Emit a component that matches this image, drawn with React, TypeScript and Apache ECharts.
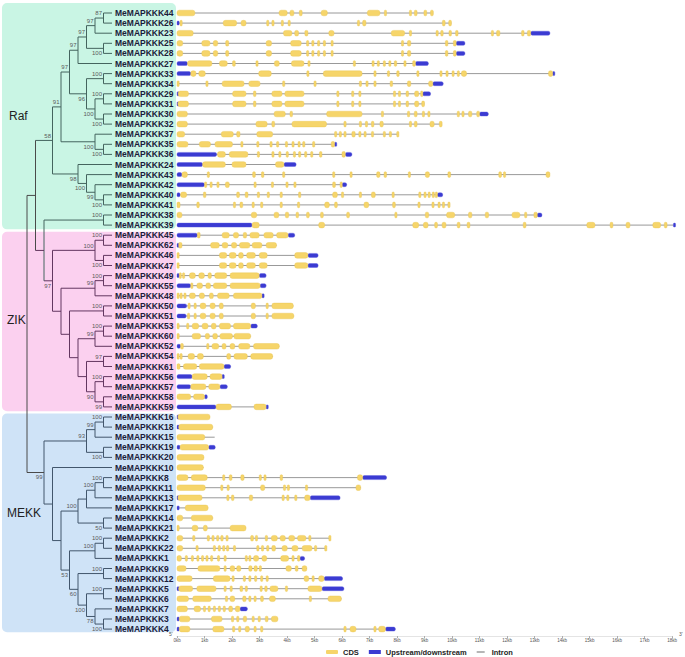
import React, { useEffect, useRef } from 'react';
import * as echarts from 'echarts';

const GENE_IDS = [44, 26, 23, 25, 28, 27, 33, 34, 29, 31, 30, 32, 37, 35, 36, 24, 43, 42, 40, 41, 38, 39,
  45, 62, 46, 47, 49, 55, 48, 50, 51, 53, 60, 52, 54, 61, 56, 57, 58, 59,
  16, 18, 15, 19, 20, 10, 8, 11, 13, 17, 14, 21, 2, 22, 1, 9, 12, 5, 6, 7, 3, 4];
const GENE_NAMES = GENE_IDS.map((i) => 'MeMAPKKK' + i);

const GENE_END = [9.32, 9.98, 13.56, 10.47, 10.47, 9.14, 13.73, 9.68, 9.22, 9.0, 11.32, 9.64, 8.06, 5.78, 6.36, 4.33,
  13.56, 6.17, 9.66, 9.93, 13.27, 18.12,
  4.28, 3.62, 5.13, 5.13, 3.24, 3.24, 3.16, 4.23, 4.25, 2.92, 2.68, 3.72, 3.48, 1.95, 1.71, 1.83, 1.1, 3.27,
  1.2, 1.3, 1.37, 1.39, 0.98, 0.96, 7.62, 6.68, 5.93, 1.13, 1.3, 2.51, 5.59, 5.44, 4.64, 4.72, 6.02, 6.07, 5.98, 2.56, 3.67, 7.94];

const UTR: number[][] = [
  [], [0, 0.06], [12.86, 13.56], [10.15, 10.47], [10.15, 10.47], [0, 0.38, 8.67, 9.14], [0, 0.5, 13.66, 13.73],
  [9.3, 9.68], [0, 0.04, 8.93, 9.22], [0, 0.03], [11.0, 11.32], [], [], [5.73, 5.78], [0, 1.44, 6.12, 6.36],
  [0, 0.93, 3.89, 4.33], [0, 0.18], [0, 1.0, 6.0, 6.17], [0, 0.11, 9.47, 9.66], [], [13.1, 13.27], [0, 2.73, 18.05, 18.12],
  [0, 0.74, 4.04, 4.28], [0, 0.06], [4.76, 5.13], [4.76, 5.13], [0, 0.05, 2.99, 3.24], [0, 0.5, 3.02, 3.24], [3.09, 3.16],
  [0, 0.35], [0, 0.33], [2.68, 2.92], [], [0, 0.13], [], [1.71, 1.95], [0, 0.55, 1.64, 1.71], [0, 0.5, 1.56, 1.83],
  [1.0, 1.1], [0, 1.42, 3.24, 3.27],
  [0, 0.03], [0, 0.06], [], [0, 0.11, 1.15, 1.39], [], [], [6.75, 7.62], [], [0, 0.03, 4.84, 5.93], [0, 0.05], [], [],
  [], [], [4.47, 4.64], [], [5.35, 6.02], [0, 0.04, 5.27, 6.07], [], [2.29, 2.56], [0, 0.08], [0, 0.08, 7.58, 7.94],
];

const CDS: number[][] = [
  [0, 0.65, 3.71, 4.01, 4.11, 4.25, 4.45, 4.55, 5.24, 5.47, 6.92, 7.38, 7.54, 7.59, 8.45, 8.52, 8.63, 8.73, 8.98, 9.08, 9.22, 9.32],
  [0.11, 0.18, 1.68, 2.17, 2.33, 2.51, 3.26, 3.33, 3.45, 3.52, 3.79, 3.87, 4.04, 4.11, 6.56, 6.63, 6.75, 6.87, 9.65, 9.75, 9.88, 9.98],
  [0, 0.59, 3.87, 4.18, 4.28, 4.42, 4.65, 4.76, 5.52, 5.71, 7.79, 8.28, 8.45, 8.5, 9.42, 9.49, 9.59, 9.68, 9.89, 9.98, 10.13, 10.22, 11.43, 11.5, 11.62, 11.74, 12.53, 12.62, 12.74, 12.86],
  [0, 0.21, 0.9, 1.2, 1.32, 1.48, 1.77, 1.88, 3.24, 3.44, 4.13, 4.52, 4.71, 4.76, 4.9, 4.95, 5.11, 5.19, 5.32, 5.39, 5.6, 5.68, 8.16, 8.23, 8.38, 8.5, 9.76, 9.85, 10.05, 10.15],
  [0, 0.21, 0.9, 1.2, 1.32, 1.48, 1.77, 1.88, 3.24, 3.44, 4.13, 4.52, 4.71, 4.76, 4.9, 4.95, 5.11, 5.19, 5.32, 5.39, 5.6, 5.68, 8.16, 8.23, 8.38, 8.5, 9.76, 9.85, 10.05, 10.15],
  [0.38, 1.27, 1.54, 1.83, 2.02, 2.12, 2.87, 2.95, 3.54, 3.72, 4.16, 4.62, 4.76, 4.8, 6.41, 6.48, 7.09, 7.16, 7.28, 7.36, 7.5, 7.58, 7.7, 7.77, 7.9, 7.99, 8.25, 8.33, 8.57, 8.67],
  [0.5, 0.69, 0.79, 1.03, 2.97, 3.43, 4.72, 4.79, 5.32, 6.73, 7.16, 7.24, 7.65, 7.72, 7.99, 8.08, 8.72, 8.79, 9.56, 9.64, 9.78, 9.85, 10.0, 10.07, 10.19, 10.24, 10.34, 10.53, 13.51, 13.66],
  [0, 0.04, 1.05, 1.13, 1.64, 2.44, 2.61, 3.02, 3.84, 3.89, 4.98, 5.05, 6.63, 6.7, 6.87, 6.95, 7.16, 7.24, 7.75, 7.84, 8.38, 8.5, 9.15, 9.3],
  [0.04, 0.42, 2.02, 2.51, 2.78, 2.87, 3.45, 3.82, 3.92, 4.62, 5.81, 5.85, 6.35, 6.42, 6.61, 6.68, 7.87, 7.94, 8.05, 8.13, 8.33, 8.42, 8.64, 8.79, 8.86, 8.93],
  [0.03, 0.42, 2.02, 2.51, 2.78, 2.87, 3.45, 3.82, 3.92, 4.62, 5.81, 5.85, 6.35, 6.42, 6.61, 6.68, 7.87, 7.94, 8.05, 8.13, 8.33, 8.42, 8.64, 8.79, 8.9, 9.0],
  [0, 0.38, 3.53, 3.94, 4.11, 4.2, 5.44, 6.73, 7.43, 7.5, 8.38, 8.45, 8.63, 8.73, 8.92, 9.0, 9.12, 9.2, 10.19, 10.26, 10.36, 10.42, 10.6, 10.72, 10.9, 11.0],
  [0, 0.38, 2.87, 3.28, 3.45, 3.55, 4.18, 5.44, 6.07, 6.12, 6.63, 6.7, 6.85, 6.92, 7.07, 7.16, 7.38, 7.5, 8.45, 8.52, 8.63, 8.73, 9.2, 9.35, 9.54, 9.64],
  [0, 0.28, 1.61, 2.05, 2.17, 2.29, 2.9, 3.48, 5.73, 5.81, 5.9, 5.98, 6.07, 6.15, 6.36, 6.48, 6.61, 6.68, 6.8, 6.87, 7.07, 7.15, 7.5, 7.58, 7.72, 7.79, 7.99, 8.06],
  [0, 0.4, 0.81, 1.22, 1.38, 2.02, 2.32, 2.39, 2.9, 2.95, 3.38, 3.45, 3.62, 3.7, 3.94, 4.01, 4.18, 4.25, 4.4, 4.47, 4.57, 4.64, 4.93, 5.0, 5.61, 5.73],
  [1.47, 1.76, 1.9, 2.58, 2.92, 3.0, 3.45, 3.53, 3.7, 3.77, 3.97, 4.05, 4.23, 4.3, 4.42, 4.5, 4.64, 4.71, 4.86, 4.93, 5.18, 5.27, 6.0, 6.12],
  [0.93, 1.76, 2.0, 2.51, 3.58, 3.89],
  [0.18, 0.38, 1.1, 1.18, 2.75, 2.85, 3.07, 3.16, 3.84, 3.92, 5.66, 5.73, 6.29, 6.33, 7.26, 7.38, 7.53, 7.62, 8.41, 8.47, 9.03, 9.18, 9.85, 9.95, 11.7, 11.8, 11.87, 11.94, 13.42, 13.56],
  [1.0, 1.08, 1.2, 1.27, 1.45, 1.53, 1.76, 1.9, 2.8, 2.87, 3.43, 3.5, 3.96, 4.04, 4.25, 4.3, 5.66, 5.76, 5.93, 6.0],
  [0.13, 0.35, 0.96, 1.05, 2.17, 2.27, 2.48, 2.58, 2.92, 3.0, 3.28, 3.36, 3.75, 3.82, 4.42, 4.5, 5.66, 5.83, 5.98, 6.05, 6.63, 6.68, 7.07, 7.21, 7.82, 7.9, 8.79, 8.86, 8.98, 9.05, 9.13, 9.2, 9.28, 9.34, 9.39, 9.47],
  [0, 0.11, 0.72, 0.81, 2.05, 2.12, 2.29, 2.39, 2.73, 2.8, 3.04, 3.12, 3.75, 3.82, 4.38, 4.45, 5.37, 5.54, 5.73, 5.83, 6.8, 6.97, 7.84, 7.94, 8.76, 8.84, 9.27, 9.35, 9.49, 9.56, 9.65, 9.73, 9.85, 9.93],
  [0, 0.18, 2.7, 2.9, 3.53, 3.7, 3.94, 4.06, 4.33, 4.42, 4.71, 4.81, 5.22, 5.32, 6.17, 6.27, 7.92, 7.99, 9.03, 9.15, 9.8, 10.1, 10.6, 10.72, 11.21, 11.33, 12.18, 12.47, 12.64, 12.72, 12.98, 13.1],
  [2.73, 2.99, 5.15, 5.37, 8.57, 8.79, 8.96, 9.13, 9.37, 9.47, 9.64, 9.78, 10.19, 10.29, 10.55, 10.65, 12.59, 12.69, 14.9, 15.2, 15.75, 15.85, 16.33, 16.47, 17.3, 17.59, 17.72, 17.82],
  [0.74, 0.84, 1.64, 1.9, 2.05, 2.24, 2.41, 2.53, 2.65, 2.99, 3.16, 3.5, 3.62, 4.04],
  [0.06, 0.18, 1.22, 1.54, 1.64, 1.85, 1.98, 2.17, 2.27, 2.65, 2.73, 3.09, 3.24, 3.62],
  [0, 0.04, 1.54, 1.81, 1.9, 2.15, 2.24, 2.41, 2.53, 2.85, 2.99, 3.28, 4.28, 4.76],
  [0, 0.04, 1.54, 1.81, 1.9, 2.15, 2.24, 2.41, 2.53, 2.85, 2.99, 3.28, 4.28, 4.76],
  [0.08, 0.16, 0.2, 0.28, 0.45, 0.67, 0.79, 1.0, 1.13, 1.25, 1.37, 1.81, 1.93, 2.99],
  [0.5, 0.57, 0.72, 0.93, 1.05, 1.22, 1.32, 1.81, 1.93, 3.02],
  [0, 0.05, 0.11, 0.16, 0.25, 0.33, 0.45, 0.67, 0.81, 1.0, 1.18, 1.32, 1.47, 1.9, 2.05, 3.09],
  [0.4, 0.47, 0.62, 0.69, 0.84, 1.05, 1.2, 1.39, 1.54, 1.68, 2.7, 2.85, 3.24, 3.31, 3.45, 4.23],
  [0.38, 0.45, 0.62, 0.69, 0.84, 1.05, 1.2, 1.39, 1.54, 1.68, 2.7, 2.85, 3.24, 3.31, 3.45, 4.25],
  [0, 0.05, 0.35, 0.42, 0.55, 0.79, 0.91, 1.13, 1.25, 1.42, 1.54, 1.95, 2.05, 2.68],
  [0, 0.05, 0.55, 0.86, 1.03, 1.18, 1.3, 1.47, 1.56, 2.02, 2.07, 2.68],
  [0.13, 0.23, 1.08, 1.15, 1.27, 1.52, 1.64, 1.78, 1.93, 2.1, 2.24, 2.65, 2.78, 3.72],
  [0, 0.05, 0.11, 0.16, 0.4, 0.64, 0.74, 0.96, 1.81, 1.95, 2.07, 2.56, 2.68, 3.48],
  [0, 0.11, 0.23, 0.72, 0.81, 1.71],
  [0.55, 1.1, 1.2, 1.64],
  [0.5, 1.05, 1.15, 1.56],
  [0, 0.5, 0.6, 1.0],
  [1.42, 1.98, 2.8, 3.24],
  [0.03, 1.2],
  [0.06, 1.3],
  [0, 1.01],
  [0.11, 1.15],
  [0, 0.98],
  [0, 0.96],
  [0, 0.4, 0.52, 1.1, 1.66, 1.73, 1.9, 2.0, 2.32, 2.44, 2.99, 3.07, 3.16, 3.24, 3.75, 3.84, 6.56, 6.75],
  [0, 1.03, 1.59, 1.66, 1.82, 1.9, 3.04, 3.19, 3.87, 3.94, 4.01, 4.08, 4.67, 4.74, 6.51, 6.68],
  [0.03, 0.91, 1.81, 1.88, 1.98, 2.07, 2.63, 2.75, 3.82, 3.89, 3.99, 4.06, 4.28, 4.35, 4.64, 4.84],
  [0.3, 1.13],
  [0, 0.21, 0.52, 1.3],
  [0, 0.05, 0.55, 0.76, 0.96, 1.1, 1.93, 2.51],
  [0, 0.21, 0.57, 0.62, 1.1, 1.18, 1.27, 1.35, 1.44, 1.52, 1.59, 1.68, 1.78, 1.85, 2.68, 2.78, 2.85, 2.92, 3.21, 3.26, 3.43, 3.65, 3.75, 3.94, 4.06, 4.28, 4.38, 4.69, 4.79, 4.86, 5.52, 5.59],
  [0, 0.21, 0.69, 0.74, 1.32, 1.39, 1.5, 1.56, 1.66, 1.73, 1.8, 1.88, 2.05, 2.12, 2.9, 2.97, 3.07, 3.14, 3.26, 3.33, 3.45, 3.58, 3.82, 4.01, 4.18, 4.4, 4.55, 4.91, 5.0, 5.08, 5.37, 5.44],
  [0, 0.16, 0.3, 0.38, 0.52, 0.59, 0.72, 0.79, 0.89, 0.96, 1.05, 1.13, 1.22, 1.3, 1.47, 1.54, 1.71, 1.78, 2.48, 2.56, 2.61, 2.68, 2.78, 2.97, 3.09, 3.26, 3.77, 4.06, 4.18, 4.25, 4.38, 4.47],
  [0, 0.33, 0.76, 1.56, 1.71, 1.78, 1.93, 2.1, 2.17, 2.32, 2.61, 2.73, 2.8, 2.92, 2.99, 3.07, 3.96, 4.16, 4.3, 4.4, 4.55, 4.72],
  [0, 0.55, 1.32, 1.93, 2.0, 2.07, 2.41, 2.48, 2.61, 2.68, 2.82, 2.9, 3.04, 3.12, 3.24, 3.31, 4.62, 4.79, 4.91, 4.98, 5.15, 5.35],
  [0.06, 0.57, 0.72, 1.42, 1.71, 1.78, 1.93, 2.0, 2.29, 2.39, 2.48, 2.56, 3.02, 3.09, 3.19, 3.28, 3.38, 3.67, 3.94, 4.01, 4.76, 5.27],
  [0, 0.42, 0.57, 1.25, 1.76, 1.83, 1.93, 2.1, 2.39, 2.51, 2.61, 2.68, 2.8, 2.87, 3.04, 3.14, 3.36, 3.58, 4.81, 4.88, 5.49, 5.98],
  [0, 0.38, 0.62, 0.86, 0.96, 1.03, 1.13, 1.2, 1.32, 1.39, 1.5, 1.56, 1.68, 1.76, 1.88, 2.02, 2.12, 2.29],
  [0.08, 0.47, 1.25, 1.64, 1.98, 2.05, 2.17, 2.24, 2.41, 2.53, 2.73, 2.8, 2.95, 3.02, 3.21, 3.31, 3.43, 3.67],
  [0.08, 0.47, 1.3, 1.71, 2.02, 2.1, 2.24, 2.32, 2.48, 2.63, 2.8, 2.87, 3.04, 3.12, 6.07, 6.15, 6.29, 6.51, 7.16, 7.24, 7.33, 7.58],
];

// Phylogenetic tree: T(level, bootstrap, ...children); leaves are gene ids
type TNode = { l: number; b: number | null; c: (TNode | number)[] };
const T = (l: number, b: number | null, ...c: (TNode | number)[]): TNode => ({ l, b, c });
const RAF = T(3, 58,
  T(4, 91,
    T(5, 97,
      T(6, 97, T(7, 97, T(8, 97, T(9, 87, 44, 26), 23), T(9, 100, 25, 28)), 27),
      T(7, 96, T(9, 100, 33, 34), T(8, 100, T(9, 100, 29, 31), T(9, 100, 30, 32)))),
    T(8, 100, 37, T(9, 100, 35, 36))),
  T(6, 98, 24, T(7, 100, 43, T(8, 99, 42, T(9, 100, 40, 41)))));
const ZIK = T(3, 97,
  T(8, 100, T(9, 100, 45, 62), T(9, 100, 46, 47)),
  T(4, null,
    T(8, 99, T(9, 100, 49, 55), 48),
    T(5, null, T(9, 100, 50, 51),
      T(6, null, T(8, 99, T(9, 100, 53, 60), 52),
        T(7, null, T(9, 97, 54, 61), T(8, 90, T(9, 100, 56, 57), T(9, 99, 58, 59)))))));
const MEKK = T(2, 99,
  T(7, 93, T(8, 99, T(9, 100, 16, 18), 15), T(9, 100, 19, 20)),
  T(3, null, 10,
    T(4, null,
      T(6, 100, T(7, null, T(8, 100, T(9, 100, 8, 11), 13), 17), T(9, 50, 14, 21)),
      T(5, 53, T(8, 100, T(9, 100, 2, 22), 1),
        T(6, 60, T(9, 100, 9, 12), T(7, 100, T(9, 100, 5, 6), T(8, 78, 7, T(9, 100, 3, 4))))))));
const TREE = T(0, null, T(1, null, RAF, T(2, null, T(9, 100, 38, 39), ZIK)), MEKK);
const LEAF_LEVEL = 10;

const CLADE_NAMES = ['Raf', 'ZIK', 'MEKK'];
const CLADE_FIRST_ROW = [0, 22, 40];
const CLADE_LAST_ROW = [21, 39, 61];
const CLADE_LABEL_ROW = [10.2, 30.4, 49.5];
const CLADE_BG = ['#c9f5e4', '#fbd0ef', '#cfe3f7'];
const CLADE_LINE = ['#44645e', '#633660', '#42566c'];

const FONT = 'Liberation Sans, Arial, Helvetica, sans-serif';

function cladeOf(row: number) {
  if (row <= 21.5) return 0;
  if (row <= 39.5) return 1;
  return 2;
}

function buildTree() {
  const segs: number[][] = [];
  const boots: number[][] = [];
  const lay = (n: TNode | number): number => {
    if (typeof n === 'number') return GENE_IDS.indexOf(n);
    const ys = n.c.map((ch, i) => {
      const y = lay(ch);
      const cl = typeof ch === 'number' ? LEAF_LEVEL : ch.l;
      segs.push([n.l, y, cl, y, n.l <= 0 ? 3 : cladeOf(y)]);
      if (typeof ch !== 'number' && ch.b != null) boots.push([ch.l, y, ch.b, i === 0 ? -1 : 1]);
      return y;
    });
    const y0 = ys[0];
    const y1 = ys[ys.length - 1];
    segs.push([n.l, y0, n.l, y1, n.l <= 1 ? 3 : cladeOf(y0)]);
    return (y0 + y1) / 2;
  };
  lay(TREE);
  return { segs, boots };
}

export default function App() {
  const ref = useRef<HTMLDivElement>(null);
  useEffect(() => {
    if (!ref.current) return;
    const chart = echarts.init(ref.current, null, { renderer: 'svg' });
    const { segs, boots } = buildTree();

    const intronData = GENE_END.map((e, r) => [0, r, e]);
    const cdsData: number[][] = [];
    const utrData: number[][] = [];
    CDS.forEach((arr, r) => { for (let i = 0; i < arr.length; i += 2) cdsData.push([arr[i], r, arr[i + 1]]); });
    UTR.forEach((arr, r) => { for (let i = 0; i < arr.length; i += 2) utrData.push([arr[i], r, arr[i + 1]]); });

    const top = 7.95;
    const height = 626.2;

    const blockRender = (h: number, fill: string, stroke: string) => (params: any, api: any) => {
      const a = api.coord([api.value(0), api.value(1)]);
      const b = api.coord([api.value(2), api.value(1)]);
      const w = Math.max(b[0] - a[0], 2.2);
      return {
        type: 'rect',
        shape: { x: a[0], y: a[1] - h / 2, width: w, height: h, r: Math.min(h / 2, w / 2) * 0.8 },
        style: { fill, stroke, lineWidth: 0.4 },
      };
    };

    chart.setOption({
      animation: false,
      grid: [
        { left: 177, top, width: 495, height },
        { left: 27, top, width: 85, height },
      ],
      xAxis: [
        {
          gridIndex: 0, type: 'value', min: 0, max: 18, interval: 1, offset: 2,
          axisLine: { show: true, lineStyle: { color: '#c8c8c8', width: 0.5 } },
          axisTick: { show: true, length: 2, lineStyle: { color: '#777', width: 0.6 } },
          axisLabel: { fontSize: 4.5, color: '#555', margin: 2, fontFamily: FONT, formatter: '{value}kb' },
          splitLine: { show: false },
        },
        { gridIndex: 1, type: 'value', min: 0, max: LEAF_LEVEL, show: false },
      ],
      yAxis: [
        {
          gridIndex: 0, type: 'category', data: GENE_NAMES, inverse: true,
          axisLine: { show: false }, axisTick: { show: false }, splitLine: { show: false },
          axisLabel: {
            interval: 0, align: 'left', margin: 62, fontSize: 8.5, fontWeight: 'bold',
            color: '#1b1b3a', fontFamily: FONT,
          },
        },
        { gridIndex: 1, type: 'value', min: -0.5, max: 61.5, inverse: true, show: false },
      ],
      legend: {
        left: 326, top: 648, padding: 0, itemWidth: 12, itemHeight: 4, itemGap: 10,
        textStyle: { fontSize: 7.5, fontWeight: 'bold', color: '#222', fontFamily: FONT },
        data: [
          { name: 'CDS', icon: 'roundRect' },
          { name: 'Upstream/downstream', icon: 'rect' },
          { name: 'Intron', icon: 'path://M0,0L0.01,0M0,3.6L20,3.6L20,6.4L0,6.4ZM0,10L0.01,10', itemStyle: { color: '#6e6e6e' } },
        ],
      },
      series: [
        {
          name: 'Intron', type: 'custom', xAxisIndex: 0, yAxisIndex: 0, clip: false, z: 2,
          itemStyle: { color: '#8d8d8d' },
          encode: { x: [0, 2], y: 1 },
          data: intronData,
          renderItem: (params: any, api: any) => {
            const a = api.coord([api.value(0), api.value(1)]);
            const b = api.coord([api.value(2), api.value(1)]);
            return { type: 'line', shape: { x1: a[0], y1: a[1], x2: b[0], y2: b[1] }, style: { stroke: '#8d8d8d', lineWidth: 0.9 } };
          },
        },
        {
          name: 'Upstream/downstream', type: 'custom', xAxisIndex: 0, yAxisIndex: 0, clip: false, z: 3,
          itemStyle: { color: '#3b3bd2' },
          encode: { x: [0, 2], y: 1 },
          data: utrData,
          renderItem: blockRender(4, '#3b3bd2', '#5a5ae0'),
        },
        {
          name: 'CDS', type: 'custom', xAxisIndex: 0, yAxisIndex: 0, clip: false, z: 4,
          itemStyle: { color: '#f6d56a' },
          encode: { x: [0, 2], y: 1 },
          data: cdsData,
          renderItem: blockRender(5.6, '#f6d56a', '#e9c550'),
        },
        {
          name: 'tree', type: 'custom', xAxisIndex: 1, yAxisIndex: 1, clip: false, z: 3,
          encode: { x: [0, 2], y: [1, 3] },
          data: segs,
          renderItem: (params: any, api: any) => {
            const a = api.coord([api.value(0), api.value(1)]);
            const b = api.coord([api.value(2), api.value(3)]);
            const c = api.value(4);
            const stroke = c === 3 ? '#4a4a4a' : CLADE_LINE[c];
            return { type: 'line', shape: { x1: a[0], y1: a[1], x2: b[0], y2: b[1] }, style: { stroke, lineWidth: 1 } };
          },
        },
        {
          name: 'bootstrap', type: 'custom', xAxisIndex: 1, yAxisIndex: 1, clip: false, z: 4,
          encode: { x: 0, y: 1 },
          data: boots,
          renderItem: (params: any, api: any) => {
            const p = api.coord([api.value(0), api.value(1)]);
            const dir = api.value(3);
            return {
              type: 'text', x: p[0] - 1.5, y: p[1] + dir * 4.8,
              style: { text: String(api.value(2)), fill: '#5a5a5a', fontSize: 6, fontFamily: FONT, align: 'right', verticalAlign: 'middle' },
            };
          },
        },
      ],
    });

    const yPix = (r: number) => chart.convertToPixel({ yAxisIndex: 1 } as any, r) as number;
    const graphics: any[] = [];
    CLADE_NAMES.forEach((name, i) => {
      const y0 = yPix(CLADE_FIRST_ROW[i] - (i === 0 ? 0.98 : 0.35));
      const y1 = yPix(CLADE_LAST_ROW[i] + (i === 2 ? 0.3 : 0.42));
      graphics.push({
        type: 'rect', z: -10, shape: { x: 2, y: y0, width: 174, height: y1 - y0, r: 5 },
        style: { fill: CLADE_BG[i] }, silent: true,
      });
      graphics.push({
        type: 'text', z: 10, x: i === 0 ? 9 : 7, y: yPix(CLADE_LABEL_ROW[i]),
        style: { text: name, fontSize: 12, fill: '#222', fontFamily: FONT, verticalAlign: 'middle' },
      });
    });
    graphics.push({ type: 'text', x: 169, y: 634, style: { text: "5'", fontSize: 5, fill: '#555', fontFamily: FONT, verticalAlign: 'middle' } });
    graphics.push({ type: 'text', x: 679, y: 634, style: { text: "3'", fontSize: 5, fill: '#555', fontFamily: FONT, verticalAlign: 'middle' } });
    chart.setOption({ graphic: graphics });

    return () => chart.dispose();
  }, []);
  return <div ref={ref} style={{ position: 'absolute', left: 0, top: 0, width: 685, height: 657 }} />;
}
